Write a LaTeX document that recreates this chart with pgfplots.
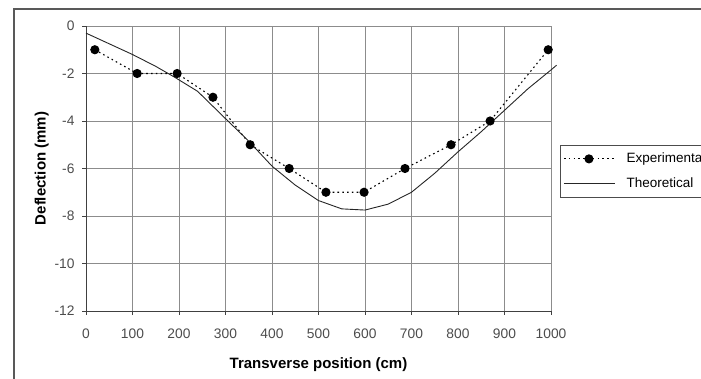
\documentclass[border=0pt]{standalone}
\usepackage{pgfplots}
\pgfplotsset{compat=1.18}
\usepackage{fontspec}
\setmainfont{Liberation Sans}
\begin{document}
\begin{tikzpicture}
\draw[black!65, line width=1.3pt] (14pt,-20pt) |- (720pt,370pt);
\begin{axis}[
  at={(86pt,68pt)}, anchor=south west,
  scale only axis, width=465pt, height=285pt,
  xmin=0, xmax=1000, ymin=-12, ymax=0,
  xtick={0,100,...,1000}, ytick={-12,-10,...,0},
  axis x line=bottom, axis y line=left,
  axis line style={-, black!75, line width=0.9pt},
  grid=major, grid style={black!45, line width=0.7pt},
  tick align=outside, major tick length=4pt,
  tick style={black!75, line width=0.8pt},
  clip=false,
  /pgf/number format/assume math mode=true,
  /pgf/number format/1000 sep={},
  ticklabel style={font=\fontsize{13.8}{15}\selectfont, text=black!70},
  xticklabel style={yshift=-10pt},
  yticklabel style={xshift=-4pt},
  xlabel={\bfseries Transverse position (cm)},
  ylabel={\bfseries Deflection (mm)},
  xlabel style={font=\fontsize{15}{17}\selectfont, yshift=-12pt},
  ylabel style={font=\fontsize{15}{17}\selectfont, yshift=-1pt},
  legend style={at={(1.0194,0.5825)}, anchor=north west, draw=black!70, line width=0.8pt,
    font=\fontsize{13.5}{15}\selectfont, inner xsep=3pt, inner ysep=5pt, row sep=8pt,
    nodes={text height=10pt, text depth=3pt, inner sep=2pt}, cells={anchor=west}},
  legend image code/.code={\draw[mark repeat=2,mark phase=2,#1] plot coordinates {(0pt,0pt) (25pt,0pt) (51pt,0pt)};},
  /tikz/every odd column/.append style={column sep=9pt},
]
\addplot[black, dash pattern=on 1.6pt off 3.2pt, line width=1.1pt, mark=*, mark size=4pt, mark options={solid}]
  coordinates {(19,-1) (110,-2) (196,-2) (273,-3) (353,-5) (437,-6) (516,-7) (598,-7) (686,-6) (785,-5) (869,-4) (994,-1)};
\addlegendentry{Experimental}
\addplot[black!85, line width=0.9pt]
  coordinates {(0,-0.3) (50,-0.75) (100,-1.2) (150,-1.7) (190,-2.15) (240,-2.75) (300,-3.9) (350,-4.85) (400,-5.9) (450,-6.7) (500,-7.35) (550,-7.7) (600,-7.75) (650,-7.5) (700,-7.0) (750,-6.2) (800,-5.3) (850,-4.45) (900,-3.55) (950,-2.65) (1000,-1.85) (1012,-1.65)};
\addlegendentry{Theoretical}
\end{axis}
\pgfresetboundingbox
\path (0pt,0pt) rectangle (701pt,379pt);
\end{tikzpicture}
\end{document}
